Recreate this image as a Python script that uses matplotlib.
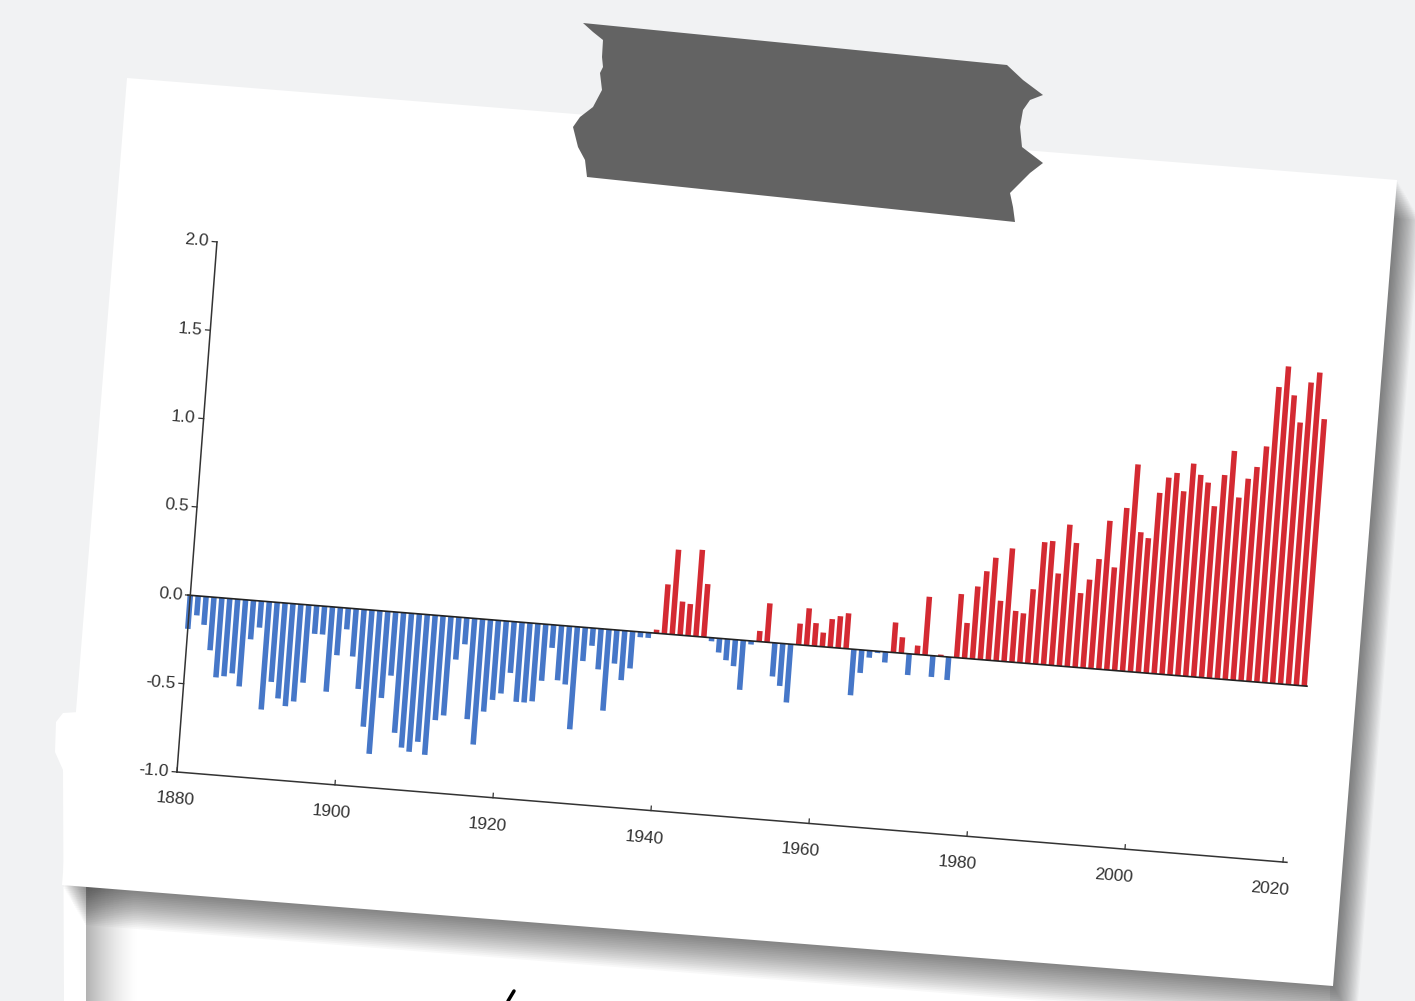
import numpy as np
import matplotlib
matplotlib.use('Agg')
import matplotlib.pyplot as plt
from matplotlib.patches import Polygon
from matplotlib.transforms import Affine2D

# yearly anomaly bars
years = list(range(1880, 2022))
anomaly = [
    -0.19, -0.11, -0.16, -0.30, -0.45, -0.44, -0.42, -0.49, -0.22, -0.15,   # 1880s
    -0.61, -0.45, -0.54, -0.58, -0.55, -0.44, -0.16, -0.16, -0.48, -0.27,   # 1890s
    -0.12, -0.27, -0.45, -0.66, -0.81, -0.49, -0.36, -0.68, -0.76, -0.78,   # 1900s
    -0.72, -0.79, -0.59, -0.56, -0.24, -0.15, -0.57, -0.71, -0.52, -0.45,   # 1910s
    -0.41, -0.29, -0.45, -0.45, -0.44, -0.32, -0.13, -0.31, -0.33, -0.58,   # 1920s
    -0.19, -0.10, -0.23, -0.46, -0.19, -0.28, -0.21, -0.03, -0.03, 0.02,    # 1930s
    0.28, 0.48, 0.19, 0.18, 0.49, 0.30, -0.02, -0.08, -0.12, -0.15,         # 1940s
    -0.28, -0.02, 0.06, 0.22, -0.19, -0.24, -0.33, 0.12, 0.21, 0.13,        # 1950s
    0.08, 0.16, 0.18, 0.20, -0.26, -0.13, -0.04, -0.01, -0.06, 0.17,        # 1960s
    0.09, -0.12, 0.05, 0.33, -0.12, 0.01, -0.13, 0.36, 0.20, 0.41,          # 1970s
    0.50, 0.58, 0.34, 0.64, 0.29, 0.28, 0.42, 0.69, 0.70, 0.52,             # 1980s
    0.80, 0.70, 0.42, 0.50, 0.62, 0.84, 0.58, 0.92, 1.17, 0.79,             # 1990s
    0.76, 1.02, 1.11, 1.14, 1.04, 1.20, 1.14, 1.10, 0.97, 1.15,             # 2000s
    1.29, 1.03, 1.14, 1.21, 1.33, 1.67, 1.79, 1.63, 1.48, 1.71,             # 2010s
    1.77, 1.51,                                                             # 2020s
]
y_ticks = [-1.0, -0.5, 0.0, 0.5, 1.0, 1.5, 2.0]
x_ticks = [1880, 1900, 1920, 1940, 1960, 1980, 2000, 2020]

W, H = 1415, 1001
fig = plt.figure(figsize=(W / 100, H / 100), dpi=100)
fig.patch.set_facecolor('#f1f2f3')
ax = fig.add_axes([0, 0, 1, 1])
ax.set_facecolor('#f1f2f3')

# the note is tilted: (year, value) -> pixel on the page
tilt = Affine2D.from_values(7.9, 0.643, 13.33, -176.7,
                            190.3 - 7.9 * 1880, 595.3 - 0.643 * 1880)
chart = tilt + ax.transData
ang = -4.6

# --- page behind the note
ax.add_patch(Polygon([(56, 722), (63, 713), (95, 711), (95, 1001), (64, 1001), (63, 770), (55, 752)],
                     closed=True, fc='white', ec='none', zorder=0))
ax.add_patch(Polygon([(86, 870), (1330, 870), (1330, 1001), (86, 1001)],
                     closed=True, fc='white', ec='none', zorder=0))
grad = np.zeros((1, 60, 4))
grad[..., 3] = np.linspace(0.45, 0.0, 60) ** 1.5
ax.imshow(grad, extent=(86, 140, 1001, 860), aspect='auto', zorder=0.5, interpolation='bilinear')

# --- the note and its shadow
paper = np.array([(127, 78), (1397, 180), (1333, 986), (62, 885)], dtype=float)
for i in range(1, 22):
    ax.add_patch(Polygon(paper + [i * 1.1, i * 1.9], closed=True, fc='black', ec='none',
                         alpha=0.028, zorder=1))
ax.add_patch(Polygon(paper, closed=True, fc='white', ec='none', zorder=2))

# --- tape
tape = [(583, 23), (593, 32), (603, 40), (602, 57), (603, 67), (600, 73), (602, 90), (593, 107),
        (580, 117), (573, 127), (578, 147), (585, 160), (587, 177), (1015, 222), (1013, 207),
        (1010, 193), (1030, 173), (1043, 163), (1022, 147), (1020, 127), (1023, 110),
        (1030, 100), (1043, 95), (1023, 80), (1007, 65)]
ax.add_patch(Polygon(tape, closed=True, fc='#636363', ec='none', zorder=10))

# --- bars
bar_colors = ['#d42a32' if v > 0 else '#4677c8' for v in anomaly]
ax.bar(years, anomaly, width=0.7, color=bar_colors, transform=chart, zorder=3)
ax.plot([years[0] - 0.3, years[-1] + 0.35], [0, 0], color='#222222', lw=1.2,
        transform=chart, zorder=4)

# --- axes
ax.plot([1880, 1880], [-1, 2], color='#333333', lw=1.1, transform=chart, zorder=4)
ax.plot([1880, 2020.5], [-1, -1], color='#333333', lw=1.1, transform=chart, zorder=4)
for v in y_ticks:
    ax.plot([1880, 1879.4], [v, v], color='#333333', lw=0.9, transform=chart, zorder=4)
    px, py = tilt.transform((1880, v))
    ax.text(px - 8, py, '%.1f' % v, ha='right', va='center', rotation=ang,
            rotation_mode='anchor', fontsize=12.5, color='#333333',
            family=['Liberation Sans', 'DejaVu Sans'], zorder=5)
for yr in x_ticks:
    ax.plot([yr, yr], [-1, -0.975], color='#333333', lw=0.9, transform=chart, zorder=4)
    px, py = tilt.transform((yr, -1))
    ax.text(px - 2 - 0.08 * (yr - 1880), py + 27, str(yr), ha='center', va='center',
            rotation=ang, rotation_mode='anchor', fontsize=12.5, color='#333333',
            family=['Liberation Sans', 'DejaVu Sans'], zorder=5)

# bit of the next page's writing
ax.plot([508, 514], [1001, 991], color='black', lw=2.5, solid_capstyle='round', zorder=1.5)

ax.set_xlim(0, W)
ax.set_ylim(H, 0)
ax.axis('off')
fig.savefig('out.png', dpi=100, facecolor=fig.get_facecolor())
